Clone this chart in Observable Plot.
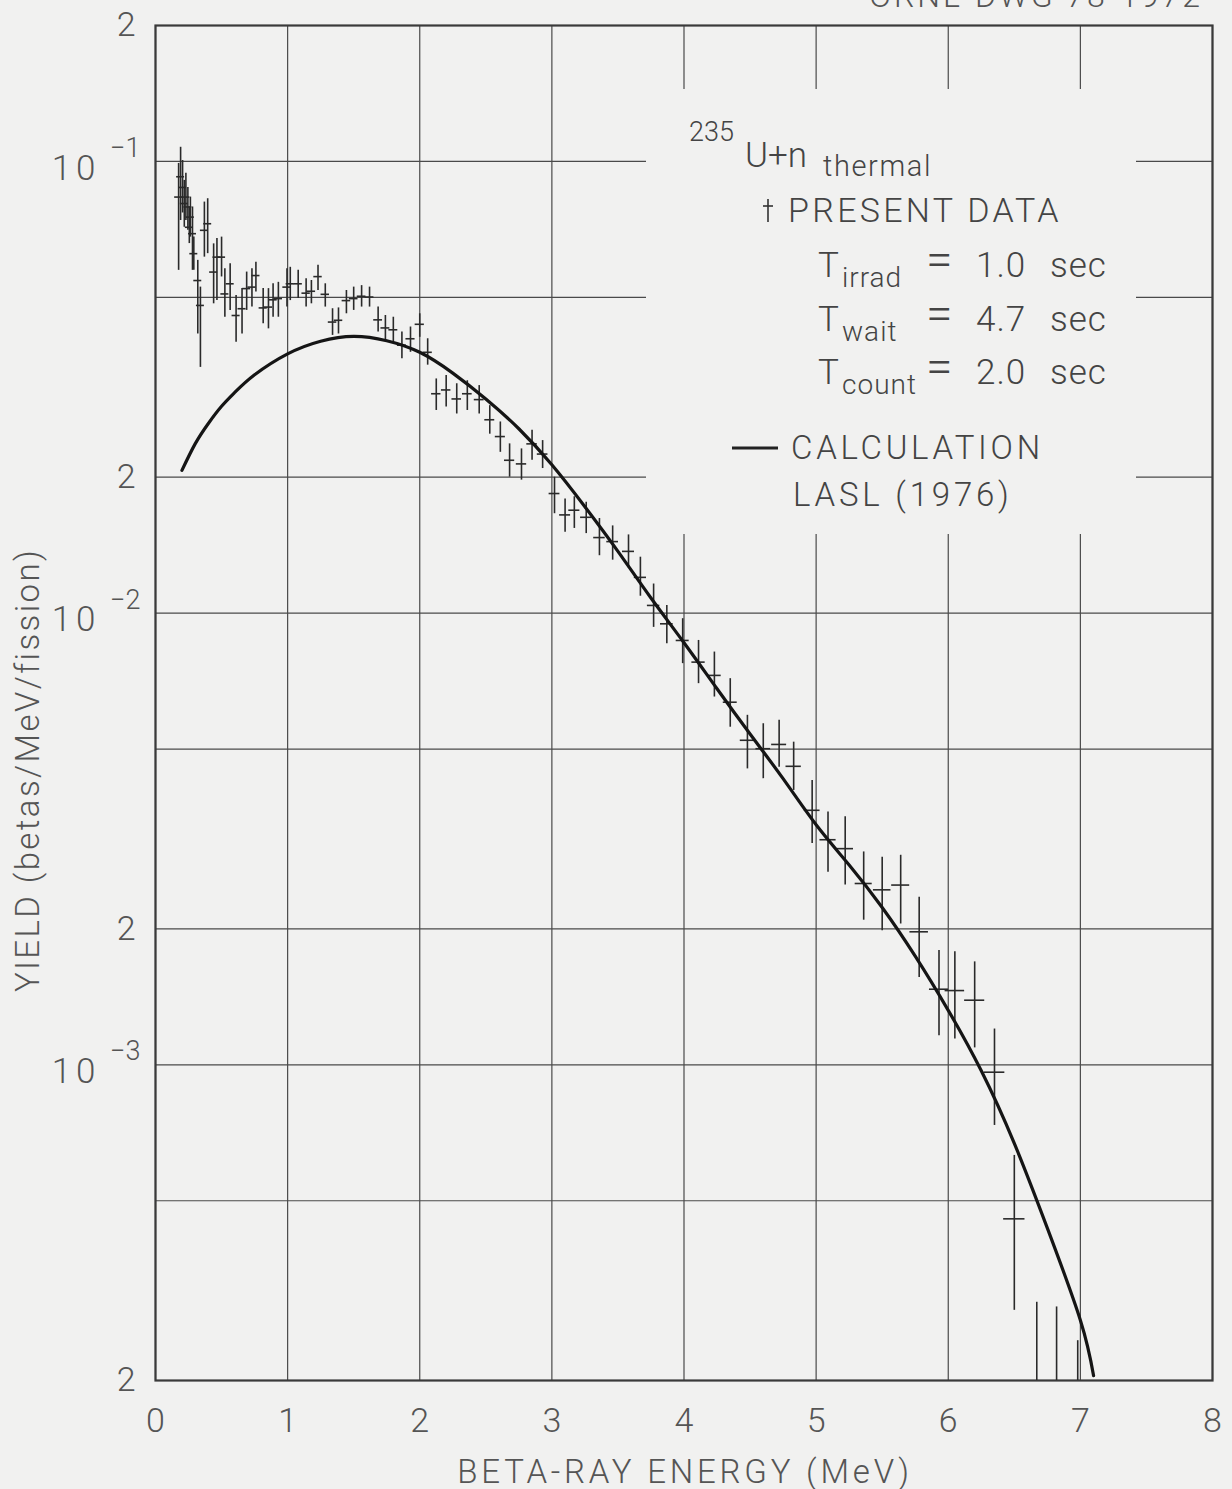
<!DOCTYPE html>
<html><head><meta charset="utf-8">
<script src="https://cdn.jsdelivr.net/npm/d3@7"></script>
<script src="https://cdn.jsdelivr.net/npm/@observablehq/plot@0.6"></script>
<style>
html,body{margin:0;padding:0;background:#f1f1f0;}
#chart svg{display:block;}
</style></head><body><div id="chart"></div>
<script>
// ---- data ----
const energy = [0.175,0.19,0.205,0.218,0.23,0.245,0.256,0.264,0.28,0.29,0.32,0.34,0.37,0.395,0.44,0.465,0.50,0.525,0.565,0.61,0.655,0.69,0.73,0.76,0.815,0.855,0.89,0.93,0.995,1.02,1.08,1.14,1.18,1.23,1.285,1.34,1.385,1.445,1.50,1.56,1.62,1.685,1.74,1.80,1.865,1.93,2.0,2.06,2.125,2.2,2.28,2.36,2.45,2.53,2.61,2.68,2.77,2.85,2.93,3.02,3.1,3.17,3.26,3.36,3.46,3.58,3.67,3.77,3.87,3.99,4.11,4.23,4.35,4.48,4.6,4.72,4.83,4.97,5.09,5.22,5.36,5.5,5.64,5.78,5.93,6.05,6.2,6.35,6.5,6.67,6.82,6.98];
const yieldVal = [0.0834,0.0925,0.0876,0.0807,0.0834,0.0793,0.0715,0.0753,0.0692,0.0625,0.0545,0.048,0.0704,0.0728,0.0569,0.0614,0.0614,0.0509,0.0536,0.0456,0.0472,0.0523,0.0527,0.0559,0.0474,0.0476,0.0494,0.0497,0.0527,0.0536,0.0536,0.0511,0.0516,0.0556,0.0508,0.0441,0.0445,0.0492,0.0497,0.0503,0.0501,0.0446,0.0428,0.0424,0.0392,0.0405,0.0436,0.0378,0.0306,0.0312,0.0298,0.0306,0.0297,0.0268,0.0246,0.0218,0.0214,0.0237,0.0225,0.0184,0.0165,0.0169,0.0163,0.0147,0.0144,0.0137,0.012,0.0104,0.00947,0.0087,0.00779,0.00728,0.00635,0.00523,0.00501,0.00512,0.00458,0.00366,0.00315,0.00301,0.00252,0.00244,0.0025,0.00197,0.00147,0.00146,0.00139,0.000963,0.000456,0.00014,0.00014,0.00015];
const errLow = [0.0574,0.074,0.0769,0.0715,0.074,0.0704,0.0658,0.068,0.0574,0.0574,0.0415,0.035,0.0614,0.0625,0.0484,0.0492,0.0555,0.0452,0.0468,0.0398,0.0415,0.0468,0.0476,0.0514,0.0437,0.0426,0.0452,0.0452,0.0476,0.0492,0.0497,0.0476,0.0484,0.0518,0.0476,0.0412,0.0415,0.046,0.0468,0.0476,0.0476,0.0419,0.0402,0.0398,0.0366,0.0378,0.0408,0.0354,0.0281,0.0286,0.0276,0.0281,0.0276,0.0249,0.0227,0.02,0.0197,0.0218,0.0209,0.0166,0.0151,0.0154,0.015,0.0134,0.0131,0.0126,0.0109,0.0093,0.00856,0.00773,0.00698,0.00652,0.00559,0.00452,0.0043,0.00456,0.00405,0.00309,0.00267,0.0025,0.00209,0.00198,0.00205,0.00156,0.00116,0.00114,0.00109,0.000734,0.000286,0.0001,0.0001,0.0001];
const errHigh = [0.099,0.1075,0.1005,0.0908,0.0942,0.0876,0.0793,0.0834,0.0793,0.068,0.0604,0.0527,0.0813,0.0827,0.0657,0.0675,0.068,0.0579,0.0594,0.0505,0.0523,0.0569,0.0579,0.0598,0.0523,0.0523,0.0536,0.054,0.0579,0.0583,0.0574,0.055,0.0545,0.0589,0.0536,0.0472,0.0474,0.0518,0.0527,0.0531,0.0527,0.0476,0.0456,0.0452,0.0419,0.043,0.046,0.0405,0.033,0.0336,0.0322,0.0327,0.0319,0.0288,0.0265,0.0237,0.0231,0.0254,0.0241,0.02,0.0179,0.0181,0.0176,0.0162,0.0156,0.0149,0.0133,0.0116,0.0104,0.00972,0.0087,0.0082,0.00716,0.00594,0.00569,0.00579,0.00518,0.00426,0.00363,0.00354,0.00296,0.00288,0.00291,0.00235,0.00179,0.00178,0.00169,0.0012,0.00063,0.000298,0.000291,0.000245];

const calcEnergy = [0.2,0.3,0.4,0.5,0.6,0.75,1.0,1.25,1.5,1.75,2.0,2.25,2.5,2.75,3.0,3.25,3.5,3.75,4.0,4.25,4.5,4.75,5.0,5.25,5.5,5.75,6.0,6.25,6.5,6.75,7.0,7.1];
const calcYield = [0.0207,0.0237,0.0263,0.0287,0.0308,0.0337,0.0375,0.0400,0.0410,0.0401,0.0378,0.0340,0.0298,0.0256,0.0213,0.0172,0.0137,0.0108,0.0086,0.0068,0.0054,0.0043,0.0034,0.00277,0.00223,0.00174,0.00132,0.00097,0.00067,0.000435,0.000272,0.000205];

const xTicks = [0,1,2,3,4,5,6,7,8];
const yGrid = [2e-4,5e-4,1e-3,2e-3,5e-3,1e-2,2e-2,5e-2,1e-1,2e-1];
const yDecades = [1e-3,1e-2,1e-1];
const yDecadeExp = ["−3","−2","−1"];

const xTitle = "BETA-RAY ENERGY (MeV)";
const yTitle = "YIELD (betas/MeV/fission)";
const drawingNo = "ORNL-DWG 78-1972";

// ---- build ----
const BG = "#f1f1f0";
const FONT = "Roboto, 'DejaVu Sans', sans-serif";
const points = energy.map((e, i) => ({e, v: yieldVal[i], lo: errLow[i], hi: errHigh[i]}));
const calc = calcEnergy.map((e, i) => ({e, v: calcYield[i]}));
const halfBin = e => 0.03 + 0.0012 * e * e;

const isDecade = d => yDecades.includes(d);

const legendMask = () => {
  const g = d3.create("svg:g");
  g.append("rect").attr("x", 646).attr("y", 89).attr("width", 490).attr("height", 445).attr("fill", BG);
  return g.node();
};

const plot = Plot.plot({
  width: 1232,
  height: 1489,
  marginLeft: 155,
  marginRight: 20,
  marginTop: 25,
  marginBottom: 109,
  style: {background: BG, fontFamily: FONT, fontSize: "34px", fontWeight: 300, color: "#555", overflow: "visible"},
  x: {domain: [0, 8], ticks: xTicks, tickFormat: d => String(d), tickSize: 0, tickPadding: 27, label: null},
  y: {type: "log", domain: [2e-4, 2e-1], ticks: yGrid, tickFormat: d => isDecade(d) ? "" : String(Math.round(d / Math.pow(10, Math.floor(Math.log10(d) + 1e-9)))), tickSize: 0, tickPadding: 20, label: null},
  marks: [
    Plot.ruleX(xTicks, {stroke: "#4a4a4a", strokeWidth: 1.2}),
    Plot.ruleY(yGrid, {stroke: "#4a4a4a", strokeWidth: 1.2}),
    legendMask,
    Plot.frame({stroke: "#3a3a3a", strokeWidth: 2.2}),
    Plot.ruleX(points, {x: "e", y1: "lo", y2: "hi", stroke: "#2a2a2a", strokeWidth: 1.6, clip: true}),
    Plot.ruleY(points, {y: "v", x1: d => d.e - halfBin(d.e), x2: d => d.e + halfBin(d.e), stroke: "#2a2a2a", strokeWidth: 1.6, clip: true}),
    Plot.line(calc, {x: "e", y: "v", curve: "natural", stroke: "#151515", strokeWidth: 3.2, clip: true}),
    Plot.text(yDecades, {y: d => d, frameAnchor: "left", text: () => "10", textAnchor: "end", dx: -55, dy: 7, fontSize: 35, fill: "#555"}),
    Plot.text(yDecades, {y: d => d, frameAnchor: "left", text: (d, i) => yDecadeExp[i], textAnchor: "end", dx: -15, dy: -13, fontSize: 27, fill: "#555"})
  ]
});

document.getElementById("chart").appendChild(plot);

// ---- titles, legend (layout text) ----
const svg = d3.select(plot);
svg.selectAll("text").filter(function() { return this.textContent === "10"; }).attr("letter-spacing", 5);

const txt = (x, y, s, size, opts = {}) => {
  const t = svg.append("text").attr("x", x).attr("y", y).text(s)
    .attr("font-size", size).attr("fill", opts.fill || "#444")
    .attr("font-family", FONT).attr("font-weight", 300)
    .attr("text-anchor", opts.anchor || "start");
  if (opts.ls) t.attr("letter-spacing", opts.ls);
  if (opts.transform) t.attr("transform", opts.transform);
  return t;
};

// axis titles
txt(685, 1483, xTitle, 33, {anchor: "middle", ls: 3.8, fill: "#555"});
txt(0, 0, yTitle, 33, {anchor: "middle", ls: 2.4, fill: "#555", transform: "translate(39,770) rotate(-90)"});
// drawing number, cut at the top edge as in the reference
txt(1203, 7, drawingNo, 32, {anchor: "end", ls: 3, fill: "#555"});

// legend
txt(689, 141, "235", 27);
txt(745, 167, "U+n", 35);
txt(823, 176, "thermal", 29, {ls: 1.6});
// data symbol
svg.append("line").attr("x1", 768).attr("x2", 768).attr("y1", 199).attr("y2", 222).attr("stroke", "#333").attr("stroke-width", 1.6);
svg.append("line").attr("x1", 763).attr("x2", 773).attr("y1", 206).attr("y2", 206).attr("stroke", "#333").attr("stroke-width", 1.6);
txt(788, 222, "PRESENT DATA", 34, {ls: 3.3});

const rows = [
  {y: 277, sub: "irrad", val: "1.0"},
  {y: 331, sub: "wait", val: "4.7"},
  {y: 384, sub: "count", val: "2.0"}
];
rows.forEach(r => {
  txt(818, r.y, "T", 35);
  txt(842, r.y + 10, r.sub, 28, {ls: 1});
  txt(926, r.y - 1, "=", 48);
  txt(976, r.y, r.val, 35, {ls: 1});
  txt(1050, r.y, "sec", 35, {ls: 1});
});

svg.append("line").attr("x1", 732).attr("x2", 778).attr("y1", 448).attr("y2", 448).attr("stroke", "#222").attr("stroke-width", 2.8);
txt(791, 459, "CALCULATION", 33, {ls: 3.7});
txt(793, 506, "LASL (1976)", 33, {ls: 3.8});
</script>
</body></html>
